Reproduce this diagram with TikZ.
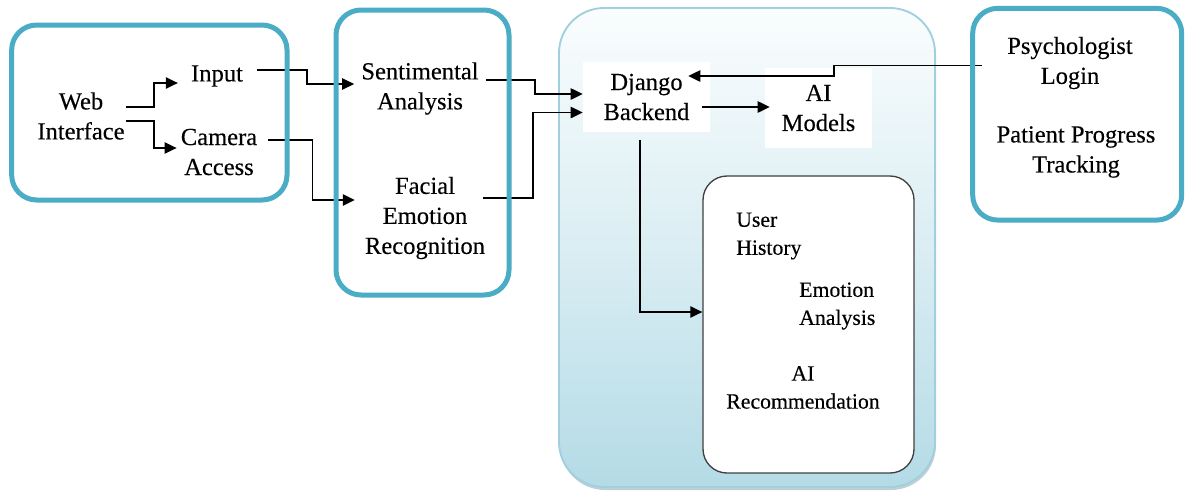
\documentclass[tikz,border=0pt]{standalone}
\usepackage{fontspec}
\setmainfont{Liberation Serif}
\usetikzlibrary{calc,arrows.meta,backgrounds}
\definecolor{frameblue}{RGB}{75,172,198}
\definecolor{paneledge}{RGB}{160,208,222}
\definecolor{paneltop}{RGB}{250,253,254}
\definecolor{panelbottom}{RGB}{180,219,230}
\definecolor{panelshadow}{RGB}{150,175,184}
\newcommand{\labelface}{\fontsize{18.4}{22.5}\selectfont\addfontfeature{FakeBold=0.3}}
\newcommand{\smalllabelface}{\fontsize{16.3}{21}\selectfont\addfontfeature{FakeBold=0.3}}
\tikzset{
  lbl/.style={inner sep=0pt, align=center, font=\labelface},
  sublbl/.style={inner sep=0pt, font=\smalllabelface},
  group/.style={draw=frameblue, line width=3.75pt, rounded corners=18.75pt, inner sep=0pt},
  plate/.style={fill=white, inner sep=0pt, align=center, font=\labelface},
  arr/.style={line width=1.1pt, -{Triangle[length=9pt,width=8.5pt]}},
}
\begin{document}
\begin{tikzpicture}[x=0.75pt,y=0.75pt]
\useasboundingbox (0,0) rectangle (1186,-490);

% server-side panel with its soft shadow
\fill[panelshadow, opacity=0.6, rounded corners=33.75pt] (560,-11) rectangle (936,-490);
\shade[top color=paneltop, bottom color=panelbottom, middle color=panelbottom!45!paneltop,
       draw=paneledge, line width=1.4pt, rounded corners=33.75pt] (559,-8) rectangle (935,-487);

% backend and model plates
\node[plate, minimum width=95.25pt, minimum height=52.5pt] (django) at (646.5,-97) {Django\\Backend};
\node[plate, minimum width=80.25pt, minimum height=60pt] (models) at (818.5,-108) {AI\\Models};

% storage box
\node[draw=black!75, fill=white, line width=1pt, rounded corners=18pt, inner sep=0pt,
      minimum width=158.25pt, minimum height=222.75pt] (store) at (808.5,-324.5) {};
\node[sublbl, anchor=west, align=left] (user) at (736,-236) {User\\History};
\node[sublbl, anchor=west, align=left] (emo) at (799,-306) {Emotion\\Analysis};
\node[sublbl, align=center] (airec) at (803,-387.5) {AI\\Recommendation};

% client-side labels
\node[lbl] (web) at (81,-116) {Web\\Interface};
\node[lbl] (input) at (217,-76) {Input};
\node[lbl] (camera) at (219,-152) {Camera\\Access};
\node[lbl] (senti) at (420,-88.5) {Sentimental\\Analysis};
\node[lbl] (facial) at (425,-218) {Facial\\Emotion\\Recognition};

% psychologist side
\node[lbl] (psych) at (1070,-63) {Psychologist\\Login};
\node[lbl] (track) at (1076,-152) {Patient Progress\\Tracking};

% connectors
\draw[arr] ($(web.east)+(1,9)$) -- ++(28,0) |- ($(input.west)+(-13,-7)$);
\draw[arr] ($(web.east)+(1,-5)$) -- ++(28,0) |- ($(camera.west)+(-4,4)$);
\draw[arr] ($(input.east)+(14,6)$) -- ++(50,0) |- ($(senti.west)+(-7,4.5)$);
\draw[arr] ($(camera.east)+(11,12)$) -- ++(44,0) |- ($(facial.west)+(-10,18)$);
\draw[arr] ($(senti.east)+(7,8.5)$) -- ++(49,0) |- ($(django.west)+(0,3)$);
\draw[arr] ($(facial.east)+(-2,20)$) -- ++(50,0) |- ($(django.west)+(0,-15.5)$);
\draw[arr] ($(django.east)+(-8,-10)$) -- ($(models.west)+(5,1)$);
\draw[arr] ($(psych.west)+(-25,-2.7)$) -- ++(-148,0) |- ($(django.east)+(-22,21)$);
\draw[arr] ($(django.south)+(-6.5,-8)$) |- ($(store.west)+(0,12.5)$);

% rounded group frames
\node[group, minimum width=206.5pt, minimum height=131.25pt] (clientbox) at (149.35,-112.5) {};
\node[group, minimum width=129.75pt, minimum height=213.75pt] (analysisbox) at (422.5,-152.5) {};
\node[group, minimum width=156.75pt, minimum height=158.8pt] (psychbox) at (1077.2,-114.2) {};
\end{tikzpicture}
\end{document}
